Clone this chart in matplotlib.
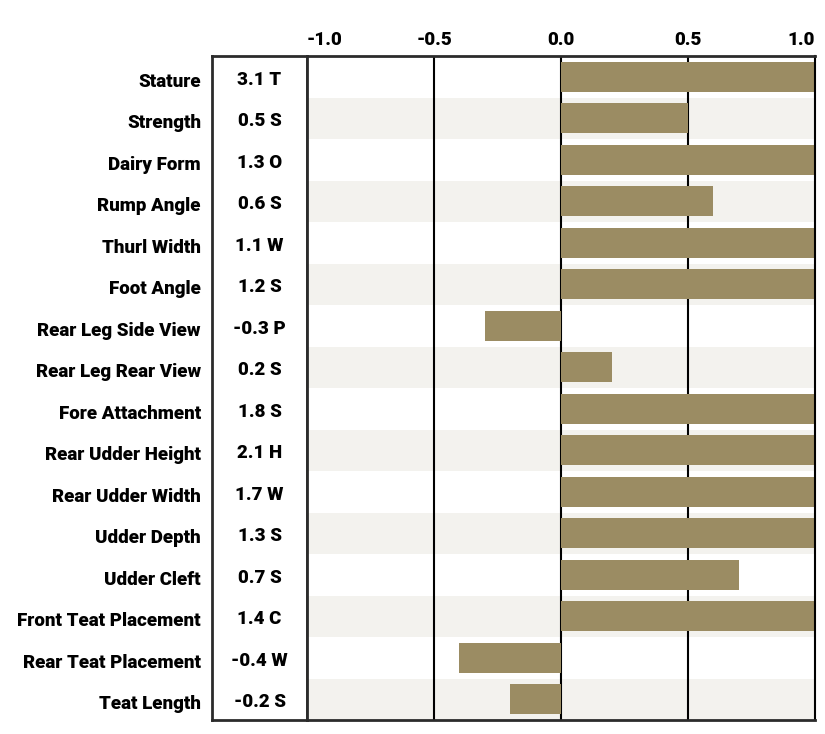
import numpy as np
import matplotlib.pyplot as plt
from matplotlib.transforms import ScaledTranslation

traits = ["Stature", "Strength", "Dairy Form", "Rump Angle", "Thurl Width", "Foot Angle",
          "Rear Leg Side View", "Rear Leg Rear View", "Fore Attachment", "Rear Udder Height",
          "Rear Udder Width", "Udder Depth", "Udder Cleft", "Front Teat Placement",
          "Rear Teat Placement", "Teat Length"]
values = [3.1, 0.5, 1.3, 0.6, 1.1, 1.2, -0.3, 0.2, 1.8, 2.1, 1.7, 1.3, 0.7, 1.4, -0.4, -0.2]
letters = ["T", "S", "O", "S", "W", "S", "P", "S", "S", "H", "W", "S", "S", "C", "W", "S"]
xticks = [-1.0, -0.5, 0.0, 0.5, 1.0]

bar_color = "#9b8c63"
band_color = "#f3f2ee"
line_color = "#2b2b2b"
font = "Roboto"
fw = 900
fs = 13.5

W, H = 825, 734
fig = plt.figure(figsize=(W / 100, H / 100), dpi=100)

top, bottom = 56, 720
ax_val = fig.add_axes([212 / W, (H - bottom) / H, (307 - 212) / W, (bottom - top) / H])
ax = fig.add_axes([307 / W, (H - bottom) / H, (815 - 307) / W, (bottom - top) / H])

n = len(traits)
y = np.arange(n)
down = ScaledTranslation(0, -3 / 100, fig.dpi_scale_trans)

# alternating bands in the plot area
for i in range(n):
    if i % 2 == 1:
        ax.axhspan(i - 0.5, i + 0.5, color=band_color, lw=0, zorder=0)

for xv in [-0.5, 0.0, 0.5]:
    ax.axvline(xv, color="black", lw=1.5, zorder=1)

clipped = np.clip(values, -1, 1)
ax.barh(y, clipped, height=0.72, color=bar_color, zorder=2)

ax.set_xlim(-1, 1)
ax.set_ylim(n - 0.5, -0.5)
ax.set_yticks([])
ax.xaxis.tick_top()
ax.set_xticks(xticks)
ax.set_xticklabels(["%.1f" % t for t in xticks], fontsize=fs, fontweight=fw, family=font)
ax.tick_params(axis="x", length=0, pad=5)
labs = ax.get_xticklabels()
labs[0].set_ha("left")
labs[-1].set_ha("right")
for s in ["top", "bottom", "left"]:
    ax.spines[s].set_color(line_color)
    ax.spines[s].set_linewidth(2)
ax.spines["right"].set_color("black")
ax.spines["right"].set_linewidth(1.5)

# value column
ax_val.set_xlim(0, 1)
ax_val.set_ylim(n - 0.5, -0.5)
ax_val.set_xticks([])
ax_val.set_yticks(y)
ax_val.set_yticklabels(traits, fontsize=fs, fontweight=fw, family=font)
ax_val.tick_params(axis="y", length=0, pad=8)
for lab in ax_val.get_yticklabels():
    lab.set_transform(lab.get_transform() + down)
for i in range(n):
    ax_val.text(0.5, i, "%.1f %s" % (values[i], letters[i]), ha="center", va="center",
                fontsize=fs, fontweight=fw, family=font,
                transform=ax_val.transData + down)
for s in ["top", "bottom", "left", "right"]:
    ax_val.spines[s].set_color(line_color)
    ax_val.spines[s].set_linewidth(2)

fig.savefig("out.png", dpi=100)
